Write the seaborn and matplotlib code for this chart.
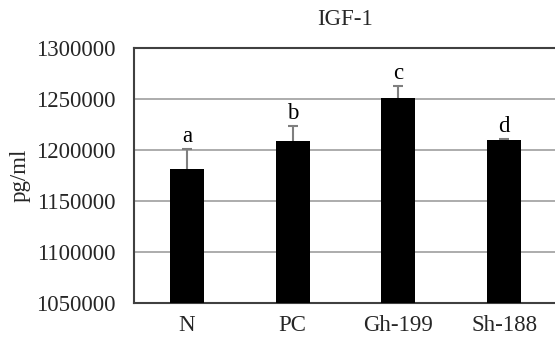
import matplotlib
matplotlib.use("Agg")
import matplotlib.pyplot as plt
import seaborn as sns
import pandas as pd

categories = ["N", "PC", "Gh-199", "Sh-188"]
values = [1181000, 1208500, 1251000, 1210000]
errors = [19500, 15000, 11500, 1000]
letters = ["a", "b", "c", "d"]
yticks = [1050000, 1100000, 1150000, 1200000, 1250000, 1300000]

sns.set_theme(style="white")
plt.rcParams["font.family"] = ["Liberation Serif", "DejaVu Serif"]

df = pd.DataFrame({"group": categories, "value": values})

fig = plt.figure(figsize=(5.55, 3.42), dpi=100)
ax = fig.add_axes([0.2414, 0.1126, 0.7622, 0.7485])

sns.barplot(data=df, x="group", y="value", color="black", width=0.32,
            errorbar=None, ax=ax, zorder=3, saturation=1)
for p in ax.patches:
    p.set_edgecolor("black")
    p.set_linewidth(0)

xs = list(range(len(categories)))
ax.errorbar(xs, values, yerr=errors, fmt="none", ecolor="#7f7f7f",
            elinewidth=1.5, capsize=3.3, capthick=1.5, zorder=2)

for x, v, e, t in zip(xs, values, errors, letters):
    ax.annotate(t, (x, v + e), xytext=(0, 1.5), textcoords="offset points",
                ha="center", va="bottom", fontsize=16.5, color="black")

ax.set_ylim(yticks[0], yticks[-1])
ax.set_yticks(yticks)
ax.set_yticklabels([str(t) for t in yticks], fontsize=16.5)
ax.set_xlim(-0.5, len(categories) - 0.5)
ax.tick_params(axis="x", labelsize=16.5, length=0, pad=8)
ax.tick_params(axis="y", length=0, pad=13.5)
ax.yaxis.grid(True, color="#a6a6a6", linewidth=1.3)
ax.set_axisbelow(True)

for s in ["left", "bottom", "top"]:
    ax.spines[s].set_color("#404040")
    ax.spines[s].set_linewidth(1.5)
ax.spines["right"].set_visible(False)

ax.set_xlabel("")
ax.set_ylabel("pg/ml", fontsize=16.5, labelpad=4)
ax.set_title("IGF-1", fontsize=16.5, pad=16)

fig.savefig("out.png", dpi=100)
